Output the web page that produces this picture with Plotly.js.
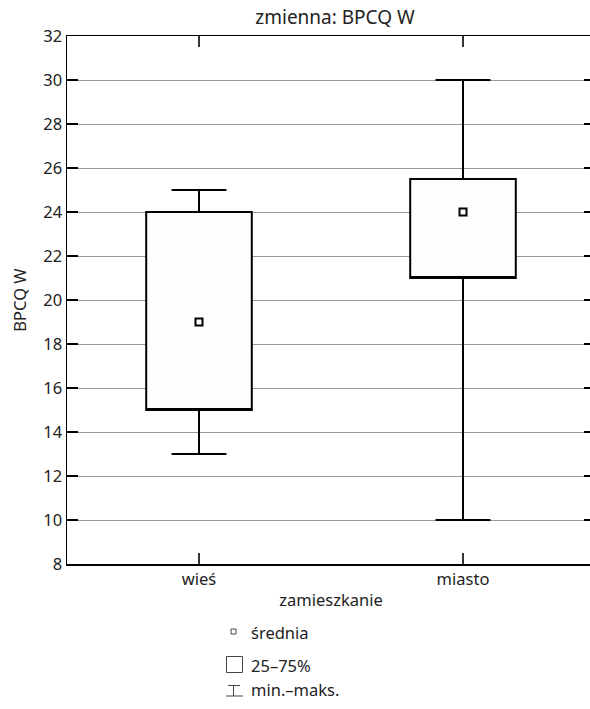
<!DOCTYPE html>
<html>
<head>
<meta charset="utf-8">
<script src="https://cdn.plot.ly/plotly-3.0.1.min.js"></script>
<style>
html,body{margin:0;padding:0;overflow:hidden;background:#fff;}
#chart{width:596px;height:709px;}
</style>
</head>
<body>
<div id="chart"></div>
<script>
// Data
const categories = ['wieś', 'miasto'];
const q1Values = [15, 21];
const q3Values = [24, 25.5];
const minValues = [13, 10];
const maxValues = [25, 30];
const meanValues = [19, 24];
const yTickValues = [8, 10, 12, 14, 16, 18, 20, 22, 24, 26, 28, 30, 32];
const legendLabels = ['średnia', '25–75%', 'min.–maks.'];

const FONT = 'Noto Sans, sans-serif';
const FS = 16.5;
const L = 67, T = 36, PW = 528, PH = 528;
const px = x => (x - L) / PW;
const py = y => (T + PH - y) / PH;

const boxTrace = {
  type: 'box',
  x: categories,
  q1: q1Values,
  median: q1Values,
  q3: q3Values,
  lowerfence: minValues,
  upperfence: maxValues,
  width: 0.4,
  whiskerwidth: 0.52,
  fillcolor: '#fdfdfd',
  line: {color: '#000', width: 2},
  hoverinfo: 'skip',
  showlegend: false
};
const meanTrace = {
  type: 'scatter',
  mode: 'markers',
  x: categories,
  y: meanValues,
  marker: {symbol: 'square', size: 7, color: '#fff', line: {color: '#000', width: 2}},
  hoverinfo: 'skip',
  showlegend: false
};

const shapes = [
  {type:'rect', xref:'paper', yref:'paper', x0:px(231), x1:px(236), y0:py(629), y1:py(634), line:{color:'#444', width:1}, fillcolor:'#fff'},
  {type:'rect', xref:'paper', yref:'paper', x0:px(226.5), x1:px(242.5), y0:py(656.5), y1:py(672.5), line:{color:'#444', width:1}, fillcolor:'#fff'},
  {type:'line', xref:'paper', yref:'paper', x0:px(228), x1:px(240), y0:py(685.5), y1:py(685.5), line:{color:'#444', width:1}},
  {type:'line', xref:'paper', yref:'paper', x0:px(233.5), x1:px(233.5), y0:py(685.5), y1:py(696), line:{color:'#444', width:1}},
  {type:'line', xref:'paper', yref:'paper', x0:px(226), x1:px(243), y0:py(696), y1:py(696), line:{color:'#444', width:1}}
];

const legendY = [632, 665, 689];
const annotations = legendLabels.map((t, i) => ({
  text: t, xref:'paper', yref:'paper', x:px(249), y:py(legendY[i]),
  xanchor:'left', yanchor:'middle', showarrow:false,
  font:{family:FONT, size:FS, color:'#222'}
}));

const layout = {
  width: 596, height: 709,
  margin: {l: L, r: 1, t: T, b: 709 - T - PH},
  paper_bgcolor: '#fff', plot_bgcolor: '#fff',
  font: {family: FONT, size: FS, color: '#222'},
  title: {text: 'zmienna: BPCQ W', xref: 'paper', x: px(335), xanchor: 'center', yref: 'container', y: 1 - 17/709, yanchor: 'middle', font: {family: FONT, size: 19, color: '#222'}},
  xaxis: {
    type: 'category', categoryarray: categories, categoryorder: 'array',
    range: [-0.5, 1.5], showgrid: false, zeroline: false,
    showline: true, linecolor: '#000', linewidth: 1.5, mirror: 'ticks',
    ticks: 'inside', ticklen: 11, tickwidth: 1.5, tickcolor: '#333',
    tickfont: {family: FONT, size: FS, color: '#222'},
    title: {text: 'zamieszkanie', standoff: 5, font: {family: FONT, size: FS, color: '#222'}},
    automargin: false, fixedrange: true
  },
  yaxis: {
    range: [8, 32], tickvals: yTickValues, ticktext: yTickValues.map(String),
    showgrid: true, gridcolor: '#999', gridwidth: 1, zeroline: false,
    showline: true, linecolor: '#000', linewidth: 1.5, mirror: 'ticks',
    ticks: 'inside', ticklen: 11, tickwidth: 1.5, tickcolor: '#000',
    tickfont: {family: FONT, size: FS, color: '#222'},
    title: {text: 'BPCQ W', standoff: 12, font: {family: FONT, size: FS, color: '#222'}},
    automargin: false, fixedrange: true
  },
  shapes: shapes,
  annotations: annotations,
  showlegend: false
};

Plotly.newPlot('chart', [boxTrace, meanTrace], layout, {displayModeBar: false, staticPlot: true});
</script>
</body>
</html>
